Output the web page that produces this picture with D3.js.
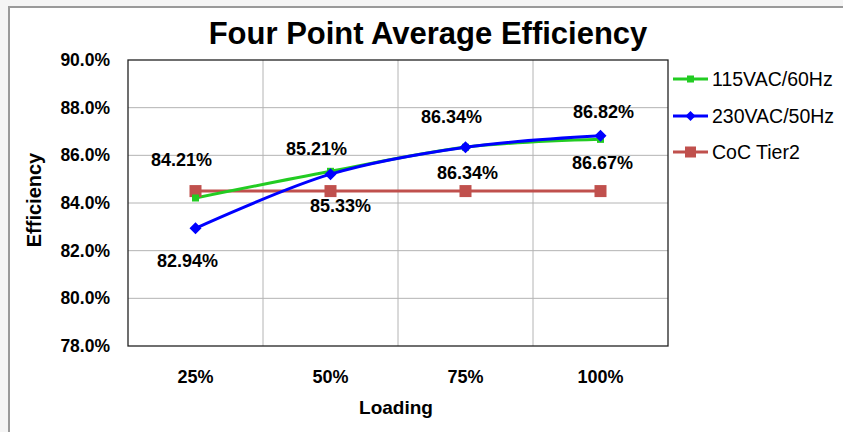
<!DOCTYPE html>
<html>
<head>
<meta charset="utf-8">
<script src="https://cdn.jsdelivr.net/npm/d3@7/dist/d3.min.js"></script>
<style>
  html, body { margin: 0; padding: 0; background: #f5f5f5; }
  svg { display: block; }
  text { font-family: "Liberation Sans", Arial, sans-serif; fill: #000; }
</style>
</head>
<body>
<svg id="chart" width="843" height="432"></svg>
<script>
// Loading points on the x axis
const categories = ["25%", "50%", "75%", "100%"];
// Efficiency (%) per loading point
const series115 = [84.21, 85.33, 86.34, 86.67];
const series230 = [82.94, 85.21, 86.34, 86.82];
const seriesCoC = [84.5, 84.5, 84.5, 84.5];
const seriesNames = ["115VAC/60Hz", "230VAC/50Hz", "CoC Tier2"];
// Y axis ticks (%)
const yTicks = [78, 80, 82, 84, 86, 88, 90];

const svg = d3.select("#chart");

// Chart panel
svg.append("rect")
  .attr("x", 9).attr("y", 7).attr("width", 850).attr("height", 440)
  .attr("fill", "#fff").attr("stroke", "#9a9a9a").attr("stroke-width", 2);

const plot = { left: 128, right: 668, top: 60, bottom: 346 };

const x = d3.scaleBand().domain(categories).range([plot.left, plot.right]).padding(0);
const y = d3.scaleLinear().domain([78, 90]).range([plot.bottom, plot.top]);
const cx = c => x(c) + x.bandwidth() / 2;

// Title
svg.append("text")
  .attr("x", 428).attr("y", 44)
  .attr("text-anchor", "middle")
  .style("font-size", "31px").style("font-weight", "bold")
  .text("Four Point Average Efficiency");

// Gridlines
const g = svg.append("g");
g.selectAll(".hgrid").data(yTicks.slice(1, -1)).enter().append("line")
  .attr("x1", plot.left).attr("x2", plot.right)
  .attr("y1", d => y(d)).attr("y2", d => y(d))
  .attr("stroke", "#b4b4b4").attr("stroke-width", 1);
g.selectAll(".vgrid").data(categories.slice(1)).enter().append("line")
  .attr("x1", d => x(d)).attr("x2", d => x(d))
  .attr("y1", plot.top).attr("y2", plot.bottom)
  .attr("stroke", "#b4b4b4").attr("stroke-width", 1);

// Plot frame
svg.append("rect")
  .attr("x", plot.left).attr("y", plot.top)
  .attr("width", plot.right - plot.left).attr("height", plot.bottom - plot.top)
  .attr("fill", "none").attr("stroke", "#222").attr("stroke-width", 1.3);

// Y axis
const yAxis = svg.append("g")
  .attr("transform", `translate(${plot.left},0)`)
  .call(d3.axisLeft(y).tickValues(yTicks).tickSize(0).tickPadding(18)
    .tickFormat(d => d.toFixed(1) + "%"));
yAxis.select(".domain").remove();
yAxis.selectAll("text")
  .style("font-size", "17.5px").style("font-weight", "bold")
  .style("font-family", "'Liberation Sans', Arial, sans-serif");

// X axis
const xAxis = svg.append("g")
  .attr("transform", `translate(0,${plot.bottom})`)
  .call(d3.axisBottom(x).tickSize(0).tickPadding(24));
xAxis.select(".domain").remove();
xAxis.selectAll("text")
  .style("font-size", "18px").style("font-weight", "bold")
  .style("font-family", "'Liberation Sans', Arial, sans-serif");

// Axis titles
svg.append("text")
  .attr("transform", "translate(41,200) rotate(-90)")
  .attr("text-anchor", "middle")
  .style("font-size", "20px").style("font-weight", "bold")
  .text("Efficiency");
svg.append("text")
  .attr("x", 396).attr("y", 414)
  .attr("text-anchor", "middle")
  .style("font-size", "19px").style("font-weight", "bold")
  .text("Loading");

const colors = ["#22cc22", "#0000ff", "#c0504d"];

const line = d3.line()
  .x((d, i) => cx(categories[i]))
  .y(d => y(d));

// CoC reference line (straight)
svg.append("path")
  .attr("d", line(seriesCoC))
  .attr("fill", "none").attr("stroke", colors[2]).attr("stroke-width", 3);

// Measured lines (smoothed)
const smooth = d3.line().curve(d3.curveCatmullRom.alpha(0.5))
  .x((d, i) => cx(categories[i])).y(d => y(d));
svg.append("path")
  .attr("d", smooth(series115))
  .attr("fill", "none").attr("stroke", colors[0]).attr("stroke-width", 3);
svg.append("path")
  .attr("d", smooth(series230))
  .attr("fill", "none").attr("stroke", colors[1]).attr("stroke-width", 3);

// Markers
function square(sel, size, color) {
  sel.append("rect")
    .attr("x", -size / 2).attr("y", -size / 2)
    .attr("width", size).attr("height", size)
    .attr("fill", color);
}
function diamond(sel, r, color) {
  sel.append("path")
    .attr("d", `M0,${-r} L${r},0 L0,${r} L${-r},0 Z`)
    .attr("fill", color);
}
seriesCoC.forEach((v, i) => {
  const m = svg.append("g").attr("transform", `translate(${cx(categories[i])},${y(v)})`);
  square(m, 12, colors[2]);
});
series115.forEach((v, i) => {
  const m = svg.append("g").attr("transform", `translate(${cx(categories[i])},${y(v)})`);
  square(m, 7, colors[0]);
});
series230.forEach((v, i) => {
  const m = svg.append("g").attr("transform", `translate(${cx(categories[i])},${y(v)})`);
  diamond(m, 6, colors[1]);
});

// Value labels, placed around each point
const offsets115 = [[-14, -38], [10, 35], [2, 26], [2, 24]];
const offsets230 = [[-8, 33], [-14, -25], [-14, -30], [3, -24]];
function labels(values, offsets) {
  values.forEach((v, i) => {
    svg.append("text")
      .attr("x", cx(categories[i]) + offsets[i][0])
      .attr("y", y(v) + offsets[i][1])
      .attr("text-anchor", "middle")
      .attr("dominant-baseline", "central")
      .style("font-size", "18px").style("font-weight", "bold")
      .text(v.toFixed(2) + "%");
  });
}
labels(series115, offsets115);
labels(series230, offsets230);

// Legend
const legend = svg.append("g").attr("transform", "translate(673,0)");
const legendY = [79, 116, 152];
seriesNames.forEach((name, i) => {
  const row = legend.append("g").attr("transform", `translate(0,${legendY[i]})`);
  row.append("line").attr("x1", 0).attr("x2", 35).attr("y1", 0).attr("y2", 0)
    .attr("stroke", colors[i]).attr("stroke-width", 3);
  const m = row.append("g").attr("transform", "translate(17.5,0)");
  if (i === 0) square(m, 7, colors[0]);
  else if (i === 1) diamond(m, 5, colors[1]);
  else square(m, 11, colors[2]);
  row.append("text").attr("x", 39).attr("y", 0)
    .attr("dominant-baseline", "central")
    .style("font-size", "19.5px")
    .text(name);
});
</script>
</body>
</html>
